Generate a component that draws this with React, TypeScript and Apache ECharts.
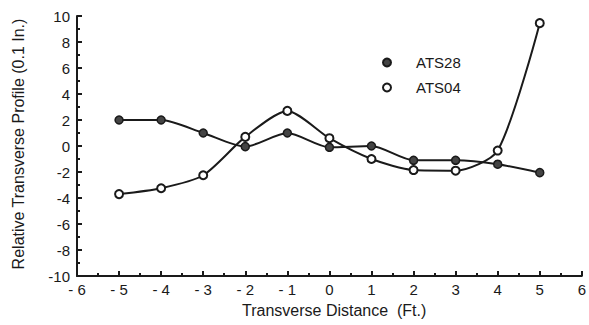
import React, { useEffect, useRef } from "react";
import * as echarts from "echarts";

const xValues = [-5, -4, -3, -2, -1, 0, 1, 2, 3, 4, 5];
const ats28 = [2.0, 2.0, 1.0, -0.05, 1.0, -0.1, 0.0, -1.1, -1.1, -1.4, -2.05];
const ats04 = [-3.7, -3.25, -2.25, 0.7, 2.7, 0.6, -1.0, -1.85, -1.9, -0.35, 9.45];
const seriesNames = ["ATS28", "ATS04"];
const xTitle = "Transverse Distance  (Ft.)";
const yTitle = "Relative Transverse Profile (0.1 In.)";

const INK = "#1a1a1a";
const FONT = "'Liberation Sans', Arial, Helvetica, sans-serif";

export default function App() {
  const ref = useRef<HTMLDivElement>(null);
  useEffect(() => {
    if (!ref.current) return;
    const chart = echarts.init(ref.current, undefined, { renderer: "svg" });
    const toPairs = (ys: number[]) => xValues.map((x, i) => [x, ys[i]]);
    chart.setOption({
      animation: false,
      backgroundColor: "#fff",
      textStyle: { fontFamily: FONT },
      grid: { left: 77, right: 4, top: 16, bottom: 49, containLabel: false },
      legend: {
        orient: "vertical",
        left: 377,
        top: 50,
        itemWidth: 8,
        itemHeight: 8,
        itemGap: 10,
        icon: "circle",
        data: seriesNames,
        textStyle: { fontSize: 15, color: INK, fontFamily: FONT, padding: [0, 0, 0, 20] },
      },
      xAxis: {
        type: "value",
        min: -6,
        max: 6,
        interval: 1,
        axisLine: { onZero: false, lineStyle: { color: INK, width: 2 } },
        axisTick: { inside: true, length: 5, lineStyle: { color: INK, width: 2 } },
        minorTick: { show: true, splitNumber: 2, length: 3, lineStyle: { color: INK, width: 2 } },
        splitLine: { show: false },
        axisLabel: {
          color: INK,
          fontSize: 15,
          fontFamily: FONT,
          margin: 6,
          formatter: (v: number) => (v < 0 ? "- " + Math.abs(v) : String(v)),
        },
      },
      yAxis: {
        type: "value",
        min: -10,
        max: 10,
        interval: 2,
        axisLine: { onZero: false, lineStyle: { color: INK, width: 2 } },
        axisTick: { inside: true, length: 5, lineStyle: { color: INK, width: 2 } },
        minorTick: { show: true, splitNumber: 2, length: 3, lineStyle: { color: INK, width: 2 } },
        splitLine: { show: false },
        axisLabel: { color: INK, fontSize: 15, fontFamily: FONT, margin: 7 },
      },
      graphic: [
        {
          type: "text",
          left: 242,
          top: 302,
          style: { text: xTitle, fontSize: 16, fill: INK, fontFamily: FONT },
        },
        {
          type: "text",
          x: 18,
          y: 144,
          rotation: Math.PI / 2,
          style: {
            text: yTitle,
            fontSize: 16,
            fill: INK,
            fontFamily: FONT,
            align: "center",
            verticalAlign: "middle",
          },
        },
      ],
      series: [
        {
          name: seriesNames[0],
          type: "line",
          data: toPairs(ats28),
          smooth: 0.25,
          symbol: "circle",
          symbolSize: 8,
          lineStyle: { color: INK, width: 2 },
          itemStyle: { color: "#444", borderColor: INK, borderWidth: 1.5 },
        },
        {
          name: seriesNames[1],
          type: "line",
          data: toPairs(ats04),
          smooth: 0.25,
          symbol: "circle",
          symbolSize: 8,
          lineStyle: { color: INK, width: 2 },
          itemStyle: { color: "#fff", borderColor: INK, borderWidth: 2 },
        },
      ],
    });
    return () => chart.dispose();
  }, []);
  return (
    <div
      ref={ref}
      style={{ position: "fixed", left: 0, top: 0, width: 589, height: 325, background: "#fff" }}
    />
  );
}
